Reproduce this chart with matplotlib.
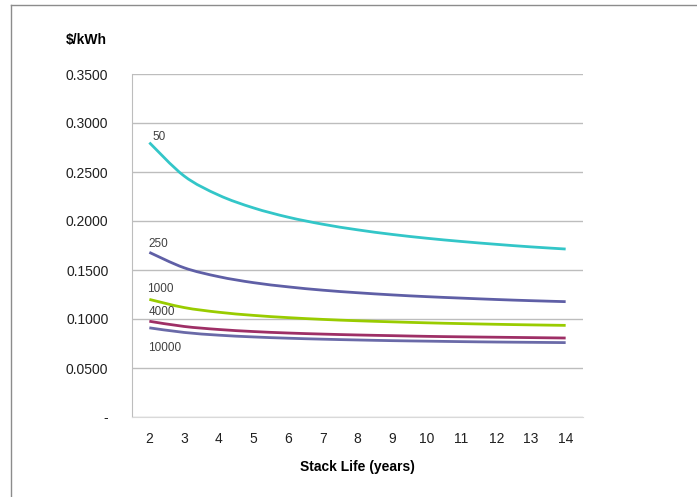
import matplotlib
matplotlib.use('Agg')
import matplotlib.pyplot as plt
from matplotlib.lines import Line2D
from matplotlib.path import Path
from matplotlib.patches import PathPatch

# stack life (years)
years = [2, 3, 4, 5, 6, 7, 8, 9, 10, 11, 12, 13, 14]

# $/kWh, one list per series
cost_50 = [0.2800, 0.2460, 0.2264, 0.2134, 0.2039, 0.1967, 0.1910, 0.1863, 0.1824, 0.1791, 0.1762, 0.1736, 0.1714]
cost_250 = [0.1680, 0.1523, 0.1432, 0.1371, 0.1328, 0.1294, 0.1268, 0.1246, 0.1228, 0.1213, 0.1199, 0.1187, 0.1177]
cost_1000 = [0.1200, 0.1117, 0.1069, 0.1037, 0.1014, 0.0996, 0.0982, 0.0971, 0.0961, 0.0953, 0.0946, 0.0940, 0.0935]
cost_4000 = [0.0977, 0.0924, 0.0893, 0.0872, 0.0857, 0.0846, 0.0837, 0.0830, 0.0823, 0.0818, 0.0814, 0.0810, 0.0806]
cost_10000 = [0.0910, 0.0863, 0.0835, 0.0817, 0.0804, 0.0794, 0.0786, 0.0779, 0.0774, 0.0769, 0.0765, 0.0762, 0.0759]

series_labels = ['50', '250', '1000', '4000', '10000']
y_ticks = [0, 0.05, 0.10, 0.15, 0.20, 0.25, 0.30, 0.35]
y_tick_labels = ['-', '0.0500', '0.1000', '0.1500', '0.2000', '0.2500', '0.3000', '0.3500']


def smooth_path(xs, ys):
    # Excel-style smoothed line: bezier segments through every data point
    pts = list(zip(xs, ys))
    n = len(pts)
    verts = [pts[0]]
    codes = [Path.MOVETO]
    for i in range(n - 1):
        p0 = pts[max(i - 1, 0)]
        p1 = pts[i]
        p2 = pts[i + 1]
        p3 = pts[min(i + 2, n - 1)]
        c1 = (p1[0] + (p2[0] - p0[0]) / 6, p1[1] + (p2[1] - p0[1]) / 6)
        c2 = (p2[0] - (p3[0] - p1[0]) / 6, p2[1] - (p3[1] - p1[1]) / 6)
        verts += [c1, c2, p2]
        codes += [Path.CURVE4] * 3
    return Path(verts, codes)


plt.rcParams['font.family'] = ['Liberation Sans', 'DejaVu Sans']

fig = plt.figure(figsize=(6.97, 4.97), dpi=100)
ax = fig.add_axes([132/697, 1 - 417/497, (583 - 132)/697, (417 - 74)/497])

colors = ['#33C6C8', '#5F5FA6', '#99CC00', '#9E2F66', '#6A6AA8']
label_offsets = [(3, 6), (-1, 8), (-2, 10), (-1, 9), (-1, -20)]
all_series = [cost_50, cost_250, cost_1000, cost_4000, cost_10000]

for vals, lab, col, off in zip(all_series, series_labels, colors, label_offsets):
    ax.add_patch(PathPatch(smooth_path(years, vals), fill=False, edgecolor=col, lw=2.0, capstyle='butt'))
    ax.annotate(lab, (years[0], vals[0]), xytext=off, textcoords='offset pixels',
                fontsize=8.5, color='#404040', ha='left', va='center')

ax.set_xlim(1.5, 14.5)
ax.set_ylim(0, 0.35)
ax.set_xticks(years)
ax.set_yticks(y_ticks)
ax.set_yticklabels(y_tick_labels)
ax.tick_params(axis='y', length=0, pad=17, labelsize=10, labelcolor='#202020')
ax.tick_params(axis='x', length=0, pad=11, labelsize=10, labelcolor='#202020')
ax.grid(axis='y', color='#BDBDBD', lw=1)
ax.set_axisbelow(True)
for s in ['top', 'right']:
    ax.spines[s].set_visible(False)
ax.spines['left'].set_color('#BDBDBD')
ax.spines['bottom'].set_color('#D9D9D9')

fig.text(66/697, 1 - 40/497, '$/kWh', fontsize=10, fontweight='bold', ha='left', va='center')
fig.text(357/697, 1 - 467/497, 'Stack Life (years)', fontsize=10, fontweight='bold', ha='center', va='center')

# outer chart border
fig.add_artist(Line2D([11/697, 1], [1 - 5/497, 1 - 5/497], transform=fig.transFigure, color='#8C8C8C', lw=1))
fig.add_artist(Line2D([11/697, 11/697], [0, 1 - 5/497], transform=fig.transFigure, color='#8C8C8C', lw=1))

fig.savefig('out.png', dpi=100)
